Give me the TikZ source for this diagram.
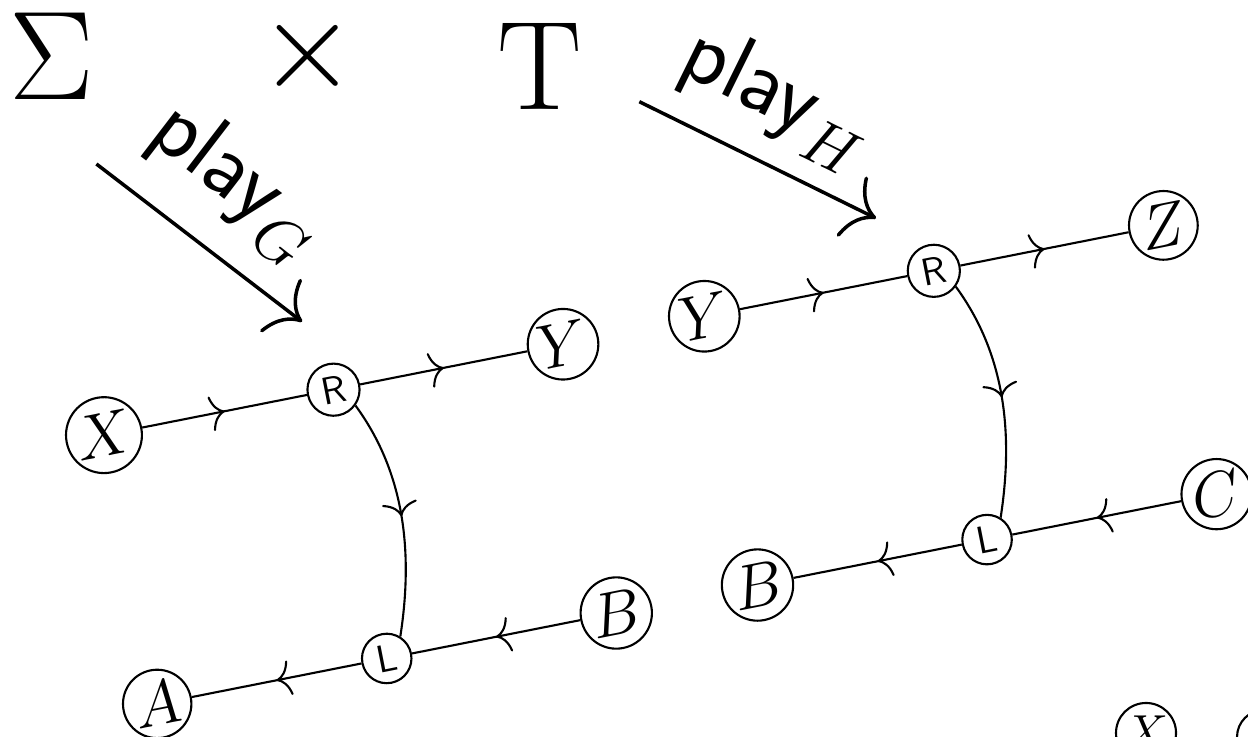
\RequirePackage{fix-cm}
\documentclass[tikz,border=0pt]{standalone}
\usepackage{amsmath,amssymb}
\usetikzlibrary{arrows.meta,decorations.markings}

\tikzset{
  varnode/.style={circle,draw,semithick,inner sep=0.5pt,minimum size=19.3pt,
    font=\fontsize{18}{21}\selectfont},
  turnnode/.style={circle,draw,semithick,inner sep=1.6pt,
    font=\fontsize{11}{13}\selectfont\sffamily},
  moveedge/.style={semithick,postaction={decorate},
    decoration={markings,mark=at position 0.5 with
      {\arrow{Computer Modern Rightarrow[length=4pt,width=10pt]}}}},
  playarrow/.style={line width=1pt,
    -{Computer Modern Rightarrow[length=8pt,width=19pt]}},
  playlabel/.style={font=\fontsize{26}{31}\selectfont},
  bigsym/.style={inner sep=0pt,font=\fontsize{36}{40}\selectfont}
}

\begin{document}
\begin{tikzpicture}
  \useasboundingbox (0,0) rectangle (12.48,7.37);
  \clip (0,0) rectangle (12.48,7.37);
  % product of the two games
  \node[bigsym] (sigma) at (0.516,6.803) {$\Sigma$};
  \node[bigsym] (times) at (3.075,6.81) {$\times$};
  \node[bigsym] (tee) at (5.40,6.703) {$\mathrm{T}$};
  \coordinate (g0) at (0.964,5.73);
  \coordinate (g1) at (3.02,4.153);
  \coordinate (h0) at (6.393,6.353);
  \coordinate (h1) at (8.76,5.187);
  \draw[playarrow] (g0) -- (g1)
    node[pos=0.47,above=4.5pt,sloped,playlabel]{$\mathsf{play}_G$};
  \draw[playarrow] (h0) -- (h1)
    node[pos=0.46,above=2.5pt,sloped,playlabel]{$\mathsf{play}_H$};
  \begin{scope}[shift={(3.335,3.473)},rotate=11.2,transform shape]
    % game G
    \node[turnnode] (r1) at (0,0) {R};
    \node[varnode] (x1) at (-2.34,0) {$X$};
    \node[varnode] (y1) at (2.34,0) {$Y$};
    \node[turnnode] (l1) at (0,-2.74) {L};
    \node[varnode] (a1) at (-2.34,-2.74) {$A$};
    \node[varnode] (b1) at (2.34,-2.74) {$B$};
    \draw[moveedge] (x1) -- (r1);
    \draw[moveedge] (r1) -- (y1);
    \draw[moveedge] (b1) -- (l1);
    \draw[moveedge] (l1) -- (a1);
    \draw[moveedge] (r1.-47) to[out=-65,in=70,out distance=0.8cm,in distance=0.9cm] (l1.47);
    % game H
    \node[turnnode] (r2) at (6.12,0) {R};
    \node[varnode] (y2) at (3.78,0) {$Y$};
    \node[varnode] (z2) at (8.46,0) {$Z$};
    \node[turnnode] (l2) at (6.12,-2.74) {L};
    \node[varnode] (b2) at (3.78,-2.74) {$B$};
    \node[varnode] (c2) at (8.46,-2.74) {$C$};
    \draw[moveedge] (y2) -- (r2);
    \draw[moveedge] (r2) -- (z2);
    \draw[moveedge] (c2) -- (l2);
    \draw[moveedge] (l2) -- (b2);
    \draw[moveedge] (r2.-47) to[out=-65,in=70,out distance=0.8cm,in distance=0.9cm] (l2.47);
  \end{scope}
  % composite, cut off at the edge
  \node[varnode,minimum size=0.54cm,font=\fontsize{14}{16}\selectfont] (x3) at (11.46,0.04) {$X$};
  \node[varnode,minimum size=0.54cm] (w3) at (12.64,0.0) {};
  \coordinate (x3in) at (10.9,-0.08);
  \draw[semithick] (x3in) -- (x3);
\end{tikzpicture}
\end{document}
